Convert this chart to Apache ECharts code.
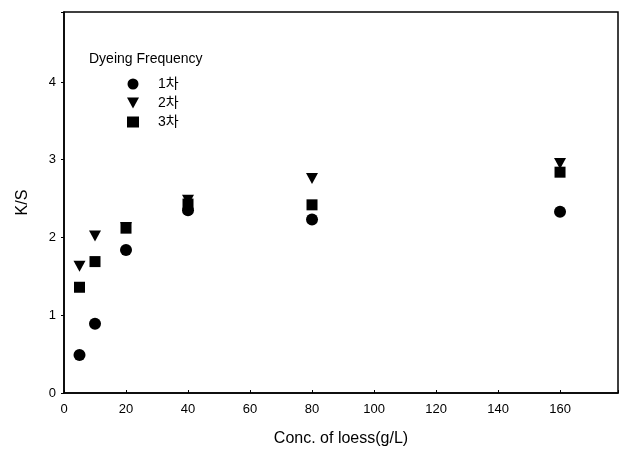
<!DOCTYPE html>
<html><head><meta charset="utf-8">
<script src="https://cdn.jsdelivr.net/npm/echarts@6/dist/echarts.min.js"></script>
<style>html,body{margin:0;padding:0;background:#fff}#c{width:621px;height:453px}</style>
</head><body><div id="c"></div>
<script>
const conc = [5, 10, 20, 40, 80, 160];
const first = [0.49, 0.89, 1.84, 2.35, 2.23, 2.33];
const second = [1.63, 2.02, 2.13, 2.48, 2.76, 2.95];
const third = [1.36, 1.69, 2.12, 2.43, 2.42, 2.84];
const names = ['1차', '2차', '3차'];
const xTicks = [0, 20, 40, 60, 80, 100, 120, 140, 160];
const yTicks = [0, 1, 2, 3, 4];

const FONT = '"Liberation Sans", Arial, "Noto Sans CJK KR", sans-serif';
const pair = arr => conc.map((x, i) => [x, arr[i]]);
const chart = echarts.init(document.getElementById('c'), null, {renderer: 'canvas'});
chart.setOption({
  animation: false,
  backgroundColor: '#fff',
  textStyle: {fontFamily: FONT, color: '#000'},
  title: {text: 'Dyeing Frequency', left: 84, top: 47,
    textStyle: {fontFamily: FONT, fontSize: 14, fontWeight: 'normal', color: '#000'}},
  legend: {
    orient: 'vertical', left: 122, top: 72, itemWidth: 12, itemHeight: 11, itemGap: 5,
    textStyle: {fontFamily: FONT, fontSize: 14, color: '#000', padding: [0, 0, 0, 14]},
    itemStyle: {opacity: 1},
    data: [
      {name: names[0], icon: 'circle'},
      {name: names[1], icon: 'path://M0,0L10,0L5,9Z'},
      {name: names[2], icon: 'rect'}
    ]
  },
  grid: {left: 64, top: 12, right: 3, bottom: 60, show: true, borderColor: '#000', borderWidth: 1.5, backgroundColor: 'transparent'},
  xAxis: {
    type: 'value', min: 0, max: 178.7, interval: 20,
    name: 'Conc. of loess(g/L)', nameLocation: 'middle', nameGap: 38,
    nameTextStyle: {fontFamily: FONT, fontSize: 16, color: '#000'},
    axisLine: {lineStyle: {color: '#000', width: 1.5}},
    axisTick: {inside: true, length: 3, lineStyle: {color: '#000'}},
    axisLabel: {fontFamily: FONT, fontSize: 13, color: '#000', margin: 10,
      formatter: v => xTicks.includes(v) ? String(v) : ''},
    splitLine: {show: false}
  },
  yAxis: {
    type: 'value', min: 0, max: 4.9, interval: 1,
    name: 'K/S', nameLocation: 'middle', nameGap: 33, nameRotate: 90,
    nameTextStyle: {fontFamily: FONT, fontSize: 16, color: '#000'},
    axisLine: {lineStyle: {color: '#000', width: 1.5}},
    axisTick: {length: 3, lineStyle: {color: '#000'}},
    axisLabel: {fontFamily: FONT, fontSize: 13, color: '#000', margin: 8,
      formatter: v => yTicks.includes(v) ? String(v) : ''},
    splitLine: {show: false}
  },
  series: [
    {name: names[0], type: 'scatter', data: pair(first), symbol: 'circle', symbolSize: 12, itemStyle: {color: '#000', opacity: 1}},
    {name: names[2], type: 'scatter', data: pair(third), symbol: 'rect', symbolSize: 11, itemStyle: {color: '#000', opacity: 1}},
    {name: names[1], type: 'scatter', data: pair(second), symbol: 'triangle', symbolRotate: 180, symbolSize: [12, 11], itemStyle: {color: '#000', opacity: 1}}
  ]
});
</script></body></html>
